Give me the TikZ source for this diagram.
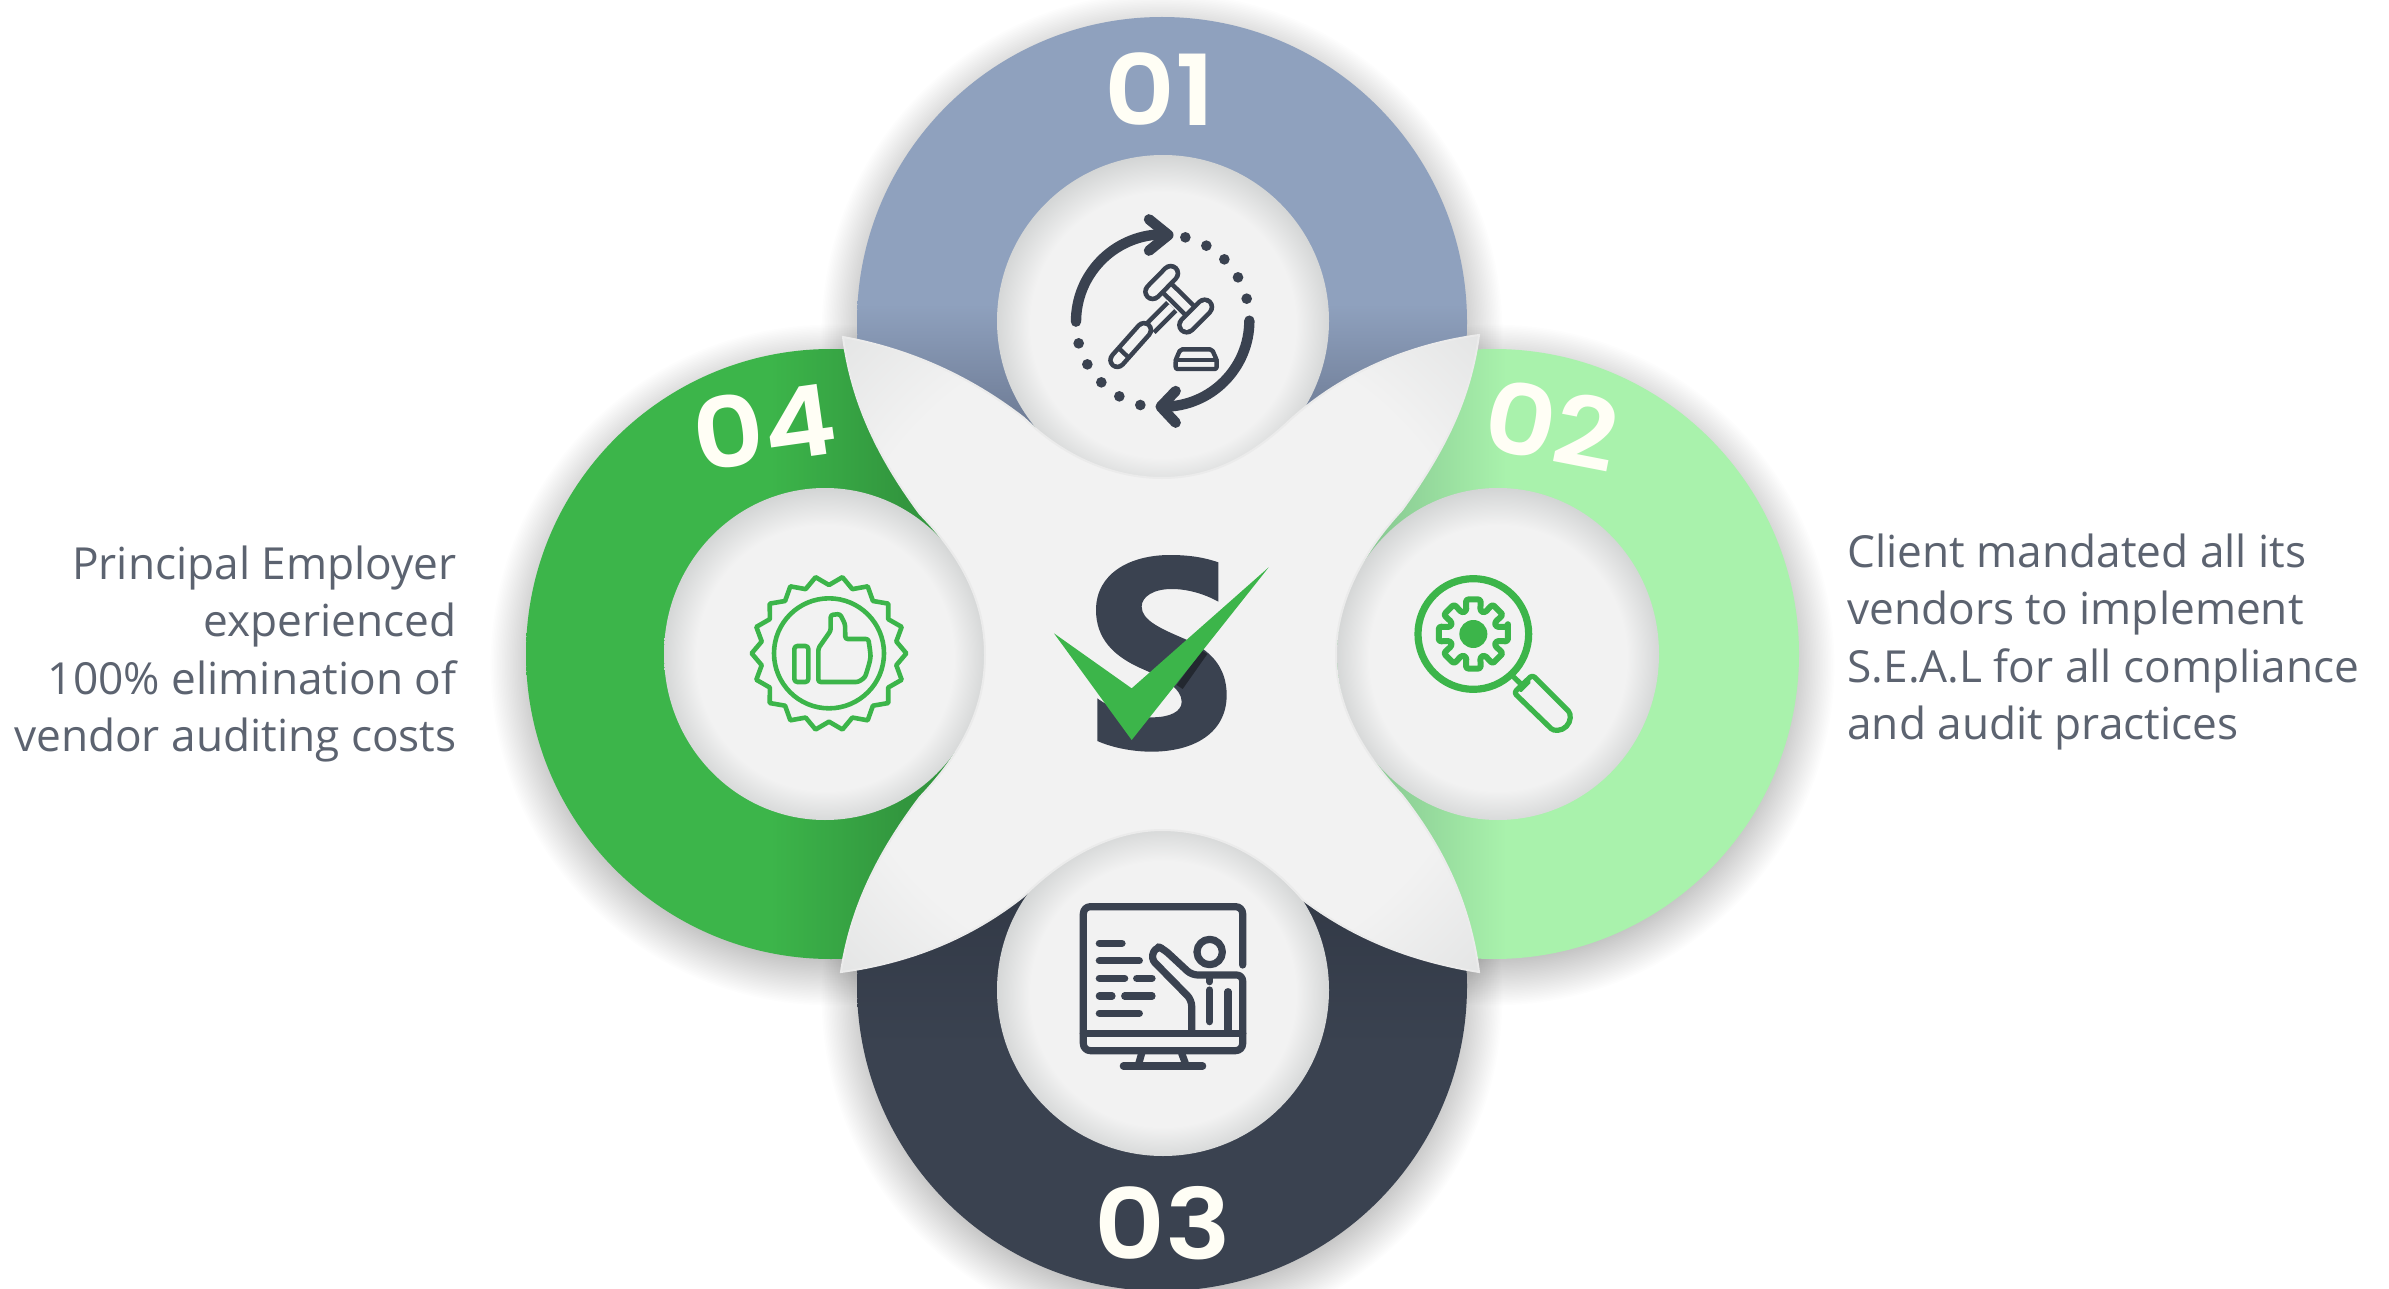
\documentclass[tikz,border=0pt]{standalone}
\usepackage{fontspec}
\setmainfont{Open Sans}
\newfontfamily\numfont{Poppins SemiBold}
\definecolor{dk}{RGB}{58,66,80}
\definecolor{gn}{RGB}{60,181,74}
\definecolor{bgg}{RGB}{242,242,242}
\definecolor{txt}{RGB}{92,99,112}
\definecolor{ta}{RGB}{104,117,142}
\definecolor{tb}{RGB}{143,161,190}
\definecolor{ba}{RGB}{49,56,69}
\definecolor{ra}{RGB}{135,200,145}
\definecolor{rb}{RGB}{169,242,172}
\definecolor{la}{RGB}{50,150,62}
\definecolor{ie}{RGB}{208,210,210}
\definecolor{se}{RGB}{228,229,229}
\pgfdeclareverticalshading{shtop}{100bp}{color(0bp)=(ta);color(40bp)=(ta);color(51.5bp)=(tb);color(100bp)=(tb)}
\pgfdeclareverticalshading{shbot}{100bp}{color(0bp)=(dk);color(45bp)=(dk);color(60bp)=(ba);color(100bp)=(ba)}
\pgfdeclarehorizontalshading{shright}{100bp}{color(0bp)=(ra);color(40bp)=(ra);color(51bp)=(rb);color(100bp)=(rb)}
\pgfdeclarehorizontalshading{shleft}{100bp}{color(0bp)=(gn);color(45bp)=(gn);color(56bp)=(la);color(100bp)=(la)}
\pgfdeclareradialshading{shinner}{\pgfpoint{0bp}{-1bp}}{color(0bp)=(bgg);color(20bp)=(bgg);color(26bp)=(ie);color(50bp)=(ie)}
\pgfdeclareradialshading{shstar}{\pgfpoint{0bp}{0bp}}{color(0bp)=(bgg);color(26bp)=(bgg);color(35.5bp)=(se);color(50bp)=(se)}
\tikzset{
  bigshadow/.style={fill=black,fill opacity=0.008},
  inner/.style={shading=shinner},
  ico/.style={line cap=round,line join=round,draw=dk,line width=3.6pt},
  icoa/.style={ico,line width=5.2pt},
  icog/.style={line cap=round,line join=round,draw=gn,line width=2.6pt},
  tube/.style={ico,line width=2.3pt,double=bgg},
  num/.style={text=white!96!yellow,font=\numfont\fontsize{49}{49}\selectfont,inner sep=0pt},
  body/.style={text=txt,font=\fontsize{22.1}{28.7}\selectfont,inner sep=0pt},
  zoomed/.style={x=0.166667pt,y=-0.166667pt},
}
\begin{document}
\begin{tikzpicture}[x=0.5pt,y=-0.5pt]
\useasboundingbox (0,0) rectangle (2389,1289);
\fill[white] (0,0) rectangle (2389,1289);
% shadows
\foreach \cx/\cy in {1162/322,1494/654,1162/986,831/654}{
  \foreach \k in {0,...,29}{
    \fill[bigshadow] (\cx,\cy+11) circle ({294+\k*1.6});
  }
}
% big circles
\path[shading=shtop] (1162,322) circle (305);
\path[shading=shbot] (1162,986) circle (305);
\path[shading=shleft] (831,654) circle (305);
\path[shading=shright] (1494,654) circle (305);
% inner discs
\path[inner] (1163,321) circle (166);
\path[inner] (1163,990) circle (166);
\path[inner] (825,654) ellipse [x radius=161,y radius=166];
\path[inner] (1498,654) ellipse [x radius=161,y radius=166];
% centre star
\path[shading=shstar,draw=white!92!black,line width=1pt]
 (843,337) .. controls (915,350) and (975,380) .. (1024,418)
 .. controls (1065,458) and (1115,478) .. (1162,478)
 .. controls (1210,478) and (1250,458) .. (1290,420)
 .. controls (1340,375) and (1405,345) .. (1479,335)
 .. controls (1470,400) and (1445,450) .. (1402,510)
 .. controls (1360,555) and (1336,605) .. (1336,655)
 .. controls (1336,705) and (1360,750) .. (1402,795)
 .. controls (1445,850) and (1470,905) .. (1479,972)
 .. controls (1405,960) and (1350,935) .. (1303,900)
 .. controls (1265,855) and (1215,830) .. (1162,830)
 .. controls (1115,830) and (1065,855) .. (1024,896)
 .. controls (975,935) and (915,962) .. (841,972)
 .. controls (851,905) and (880,850) .. (920,797)
 .. controls (965,750) and (985,705) .. (985,655)
 .. controls (985,605) and (965,560) .. (920,514)
 .. controls (880,460) and (852,405) .. (843,337) -- cycle;
% logo
\begin{scope}[shift={(1030,510)},zoomed]
\fill[dk] (565,157) -- (565,275) .. controls (520,250) and (470,237) .. (425,237)
 .. controls (370,237) and (335,260) .. (335,290)
 .. controls (335,330) and (390,355) .. (460,385)
 .. controls (540,418) and (590,470) .. (590,555)
 .. controls (590,670) and (490,725) .. (365,725)
 .. controls (305,725) and (245,712) .. (202,693) -- (202,565)
 .. controls (250,600) and (310,622) .. (365,622)
 .. controls (420,622) and (455,605) .. (455,575)
 .. controls (455,535) and (400,505) .. (340,478)
 .. controls (250,440) and (198,385) .. (198,300)
 .. controls (198,190) and (300,135) .. (420,135)
 .. controls (480,135) and (525,143) .. (565,157) -- cycle;
\fill[black!40!dk] (515,422) -- (440,525) -- (458,537) -- (532,432) -- cycle;
\fill[gn] (72,370) -- (305,535) -- (716,172) -- (305,690) -- cycle;
\end{scope}
% gavel icon
\begin{scope}[shift={(1000,130)},zoomed]
\draw[icoa] (228,575) arc[start angle=180,end angle=268,radius=262];
\draw[icoa] (447,268) -- (505,315) -- (447,362);
\draw[icoa] (748,572) arc[start angle=0,end angle=90,radius=258];
\draw[icoa] (527,783) -- (482,830) -- (527,878);
\foreach \dx/\dy in {556/322,619/347,673/388,714/442,740/506,236/640,262/703,304/757,358/799,421/825}
  \fill[dk] (\dx,\dy) circle (16);
\draw[tube,double distance=3.4pt,line cap=butt] (515,530) -- (450,595);
\draw[tube,double distance=3.8pt] (484,457) -- (586,558);
\draw[tube,double distance=5pt] (458,485) -- (512,430);
\draw[tube,double distance=5pt] (560,585) -- (614,531);
\draw[tube,double distance=4.6pt] (432,600) -- (352,690);
\draw[ico,line width=2.2pt] (362,660) -- (385,682);
\draw[ico,line width=2.2pt,rounded corners=1pt] (527,717) -- (650,717) -- (650,690) -- (636,658) -- (541,658) -- (527,690) -- cycle;
\draw[ico,line width=2.2pt] (527,690) -- (650,690);
\end{scope}
% magnifier icon
\begin{scope}[shift={(1390,530)},zoomed]
\draw[icog,line width=3.6pt] (250,312) circle (166);
\draw[icog,line width=3pt,rounded corners=1.2pt,shift={(250,312)}]
  (-12:106)
  \foreach \a in {0,45,...,315}{
    -- (\a-12:106) -- (\a+12:106) -- (\a+17:72) -- (\a+28:72)
  } -- cycle;
\fill[gn] (250,312) circle (42);
\draw[icog] (372,442) -- (395,464);
\draw[icog,rounded corners=1.5pt] (529,537) arc[start angle=-45,end angle=135,radius=37] -- (372,488) -- (427,435) -- cycle;
\draw[icog,line width=1.6pt] (392,482) -- (418,456);
\end{scope}
% presentation icon
\begin{scope}[shift={(1060,890)},zoomed]
\draw[ico,rounded corners=3.5pt] (548,225) -- (548,50) -- (70,50) -- (70,482) -- (548,482) -- (548,430);
\draw[ico] (70,430) -- (548,430);
\draw[ico] (245,490) -- (235,525);
\draw[ico] (365,490) -- (378,525);
\draw[ico] (190,528) -- (428,528);
\foreach \xa/\xb/\yy in {118/186/160,118/238/212,118/194/265,230/276/265,118/156/318,194/276/318,118/238/370}
  \draw[ico] (\xa,\yy) -- (\xb,\yy);
\draw[ico] (449,186) circle (38);
\draw[ico,rounded corners=3pt] (395,425) -- (395,330) -- (272,205) -- (290,168) -- (312,178) -- (395,255) -- (548,255) -- (548,430);
\draw[ico] (449,258) -- (449,275);
\draw[ico] (449,300) -- (449,395);
\draw[ico] (504,305) -- (504,425);
\end{scope}
% badge icon
\begin{scope}[shift={(740,560)},zoomed]
\draw[icog,line width=2.3pt,shift={(267,280)}] (0:232)
  \foreach \a in {0,20,...,340}{ -- (\a:232) -- (\a+10:205) } -- cycle;
\draw[icog,line width=2.3pt] (267,280) circle (165);
\draw[icog,line width=2.3pt,rounded corners=1.5pt] (163,258) rectangle (205,366);
\draw[icog,line width=2.3pt,rounded corners=1.2pt] (235,366) -- (235,265) -- (272,212) -- (272,165) -- (300,162) -- (315,192) -- (316,237) -- (385,237) -- (390,270) -- (392,290) -- (388,310) -- (382,330) -- (375,352) -- (355,366) -- cycle;
\end{scope}
% numbers
\node[num] (n1) at (1160,89) {\scalebox{1.12}[1]{01}};
\node[num,rotate=-11] (n2) at (1552,425) {\scalebox{1.12}[1]{02}};
\node[num] (n3) at (1163,1223) {\scalebox{1.12}[1]{03}};
\node[num,rotate=8] (n4) at (764,426) {\scalebox{1.12}[1]{04}};
% texts
\node[body,align=right,anchor=east] (tl) at (457,654) {Principal Employer\\experienced\\100\% elimination of\\vendor auditing costs};
\node[body,align=left,anchor=west] (tr) at (1847,642) {Client mandated all its\\vendors to implement\\S.E.A.L for all compliance\\and audit practices};
\end{tikzpicture}
\end{document}
